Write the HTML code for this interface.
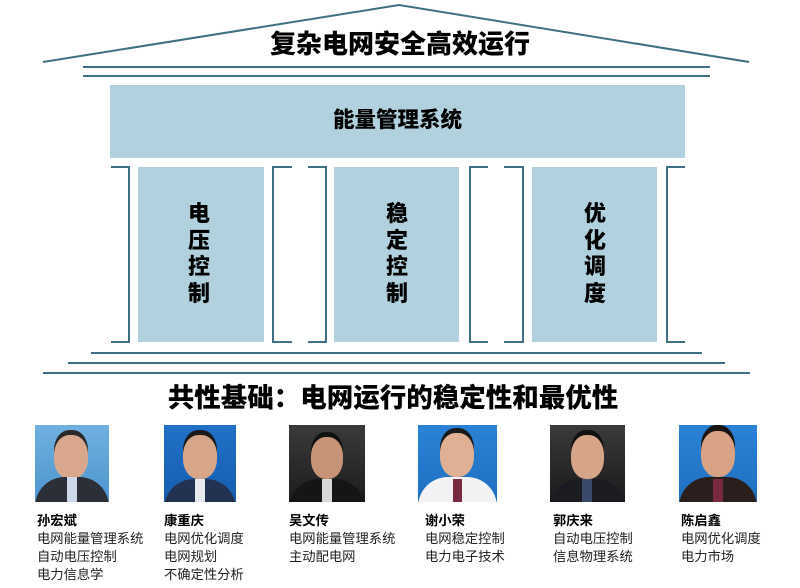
<!DOCTYPE html>
<html><head><meta charset="utf-8"><style>
body{margin:0;width:800px;height:588px;background:#fff;position:relative;overflow:hidden;font-family:"Liberation Sans","Noto Sans CJK SC",sans-serif}
.a{position:absolute}
.box{position:absolute;background:#b2d1de}
.vt{position:absolute;font-weight:900;font-size:22px;line-height:26.5px;text-align:center;width:30px;color:#000}
.ph{position:absolute;overflow:hidden}
.nm{position:absolute;font-size:13.3px;line-height:18px;color:#222}
.nm b{color:#000}
</style></head><body>
<svg class="a" style="left:0;top:0" width="800" height="588">
<g stroke="#3e6f82" stroke-width="2" fill="none">
<polyline points="43,62 399,5 749,62"/>
<line x1="83" y1="67" x2="710" y2="67"/>
<line x1="83" y1="76" x2="710" y2="76"/>
<line x1="91" y1="353" x2="702" y2="353"/>
<line x1="68" y1="363" x2="725" y2="363"/>
<line x1="43" y1="373" x2="750" y2="373"/>
<polyline points="111,167 129,167 129,342 111,342"/>
<polyline points="292,167 273,167 273,342 292,342"/>
<polyline points="308,167 326,167 326,342 308,342"/>
<polyline points="488,167 470,167 470,342 488,342"/>
<polyline points="504,167 523,167 523,342 504,342"/>
<polyline points="685,167 667,167 667,342 685,342"/>
</g>
</svg>
<div class="a" style="left:0;width:800px;top:29px;text-align:center;font-weight:900;font-size:26px;line-height:30px">复杂电网安全高效运行</div>
<div class="box" style="left:110px;top:85px;width:575px;height:73px"></div>
<div class="a" style="left:110px;width:575px;top:106px;text-align:center;font-weight:900;font-size:21.5px;line-height:28px">能量管理系统</div>
<div class="box" style="left:138px;top:167px;width:126px;height:175px"></div>
<div class="box" style="left:334px;top:167px;width:125px;height:175px"></div>
<div class="box" style="left:532px;top:167px;width:125px;height:175px"></div>
<div class="vt" style="left:184px;top:201px">电<br>压<br>控<br>制</div>
<div class="vt" style="left:382px;top:201px">稳<br>定<br>控<br>制</div>
<div class="vt" style="left:580px;top:201px">优<br>化<br>调<br>度</div>
<div class="a" style="left:0;width:786px;top:383px;text-align:center;font-weight:900;font-size:26.5px;line-height:30px">共性基础：电网运行的稳定性和最优性</div>

<div class="ph" style="left:35px;top:425px;width:74px;height:77px;background:linear-gradient(#6fb0e0,#4d96d0)"><div class="a" style="left:19px;top:10px;width:34px;height:44px;border-radius:45%;background:#d9a88c;box-shadow:0 -5px 0 #2a2a2a"></div><div class="a" style="left:0;top:52px;width:74px;height:30px;border-radius:30px 30px 0 0;background:#2c2f38"></div><div class="a" style="left:32px;top:52px;width:10px;height:25px;background:#cfd8e8"></div></div>
<div class="ph" style="left:164px;top:425px;width:72px;height:77px;background:linear-gradient(#2071c8,#175eb0)"><div class="a" style="left:19px;top:10px;width:34px;height:44px;border-radius:45%;background:#d7a688;box-shadow:0 -5px 0 #1a1a1a"></div><div class="a" style="left:0;top:54px;width:72px;height:30px;border-radius:30px 30px 0 0;background:#243252"></div><div class="a" style="left:31px;top:54px;width:10px;height:25px;background:#e8e8f0"></div></div>
<div class="ph" style="left:289px;top:425px;width:76px;height:77px;background:linear-gradient(#3a3a3a,#1c1c1c)"><div class="a" style="left:22px;top:12px;width:32px;height:42px;border-radius:45%;background:#c89478;box-shadow:0 -5px 0 #111"></div><div class="a" style="left:0;top:54px;width:76px;height:30px;border-radius:30px 30px 0 0;background:#151515"></div><div class="a" style="left:33px;top:54px;width:10px;height:25px;background:#d8d8d8"></div></div>
<div class="ph" style="left:418px;top:425px;width:79px;height:77px;background:linear-gradient(#2a82d6,#1f6fc0)"><div class="a" style="left:22px;top:8px;width:34px;height:44px;border-radius:45%;background:#e0b094;box-shadow:0 -5px 0 #1a1a1a"></div><div class="a" style="left:0;top:52px;width:79px;height:30px;border-radius:30px 30px 0 0;background:#f2f2f4"></div><div class="a" style="left:35px;top:54px;width:9px;height:25px;background:#7a2a40"></div></div>
<div class="ph" style="left:550px;top:425px;width:75px;height:77px;background:linear-gradient(#3a3a3a,#1a1a1a)"><div class="a" style="left:21px;top:10px;width:33px;height:44px;border-radius:45%;background:#d6a486;box-shadow:0 -5px 0 #111"></div><div class="a" style="left:0;top:54px;width:75px;height:30px;border-radius:30px 30px 0 0;background:#1a1c22"></div><div class="a" style="left:32px;top:54px;width:10px;height:25px;background:#3b4a6a"></div></div>
<div class="ph" style="left:679px;top:425px;width:78px;height:77px;background:linear-gradient(#2a82d6,#1f6fc0)"><div class="a" style="left:22px;top:6px;width:34px;height:46px;border-radius:45%;background:#d8a284;box-shadow:0 -6px 0 #1a1410"></div><div class="a" style="left:0;top:52px;width:78px;height:30px;border-radius:30px 30px 0 0;background:#2a1f1c"></div><div class="a" style="left:34px;top:54px;width:10px;height:25px;background:#7a2a40"></div></div>

<div class="nm" style="left:37px;top:512px"><b>孙宏斌</b><br>电网能量管理系统<br>自动电压控制<br>电力信息学</div>
<div class="nm" style="left:164px;top:512px"><b>康重庆</b><br>电网优化调度<br>电网规划<br>不确定性分析</div>
<div class="nm" style="left:289px;top:512px"><b>吴文传</b><br>电网能量管理系统<br>主动配电网</div>
<div class="nm" style="left:425px;top:512px"><b>谢小荣</b><br>电网稳定控制<br>电力电子技术</div>
<div class="nm" style="left:553px;top:512px"><b>郭庆来</b><br>自动电压控制<br>信息物理系统</div>
<div class="nm" style="left:681px;top:512px"><b>陈启鑫</b><br>电网优化调度<br>电力市场</div>
</body></html>
